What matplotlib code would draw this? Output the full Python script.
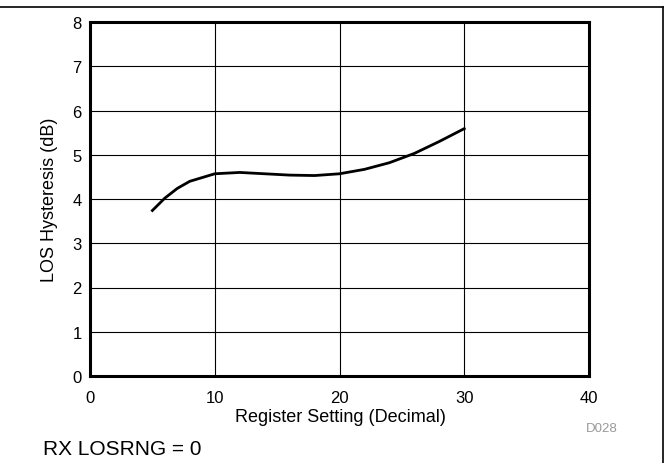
import numpy as np
import matplotlib.pyplot as plt
from matplotlib.lines import Line2D

plt.rcParams['font.family'] = ['Liberation Sans', 'DejaVu Sans']

# register setting vs LOS hysteresis
reg = [5, 6, 7, 8, 10, 12, 14, 16, 18, 20, 22, 24, 26, 28, 30]
hyst = [3.74, 4.02, 4.24, 4.40, 4.57, 4.60, 4.57, 4.54, 4.53, 4.57, 4.67, 4.82, 5.03, 5.30, 5.59]

xticks = [0, 10, 20, 30, 40]
yticks = [0, 1, 2, 3, 4, 5, 6, 7, 8]

W, H = 669, 464
fig = plt.figure(figsize=(W / 100, H / 100), dpi=100)
ax = fig.add_axes([90 / W, 1 - 377 / H, 499 / W, 354 / H])

ax.plot(reg, hyst, color="black", lw=2.0)

ax.set_xlim(0, 40)
ax.set_ylim(0, 8)
ax.set_xticks(xticks)
ax.set_yticks(yticks)
ax.tick_params(axis="x", length=0, labelsize=12, pad=10)
ax.tick_params(axis="y", length=0, labelsize=12, pad=6)
ax.grid(True, color="black", lw=0.8)
for s in ax.spines.values():
    s.set_linewidth(2.2)

ax.set_xlabel("Register Setting (Decimal)", fontsize=13)
ax.set_ylabel("LOS Hysteresis (dB)", fontsize=13)
ax.xaxis.set_label_coords((340 - 90) / 499, (377 - 409) / 354)
ax.yaxis.set_label_coords((58 - 90) / 499, 0.5)

fig.text(602 / W, 1 - 429 / H, "D028", fontsize=9.5, color="#999999",
         ha="center", va="center")
fig.text(43 / W, 1 - 450 / H, "RX LOSRNG = 0", fontsize=15,
         ha="left", va="center")

# outer frame (top and right edges)
fig.add_artist(Line2D([0, 662.5 / W], [1 - 7.5 / H, 1 - 7.5 / H],
                      transform=fig.transFigure, color="black", lw=1.2))
fig.add_artist(Line2D([662.5 / W, 662.5 / W], [0, 1 - 7.5 / H],
                      transform=fig.transFigure, color="black", lw=1.2))

fig.savefig("out.png", dpi=100)
